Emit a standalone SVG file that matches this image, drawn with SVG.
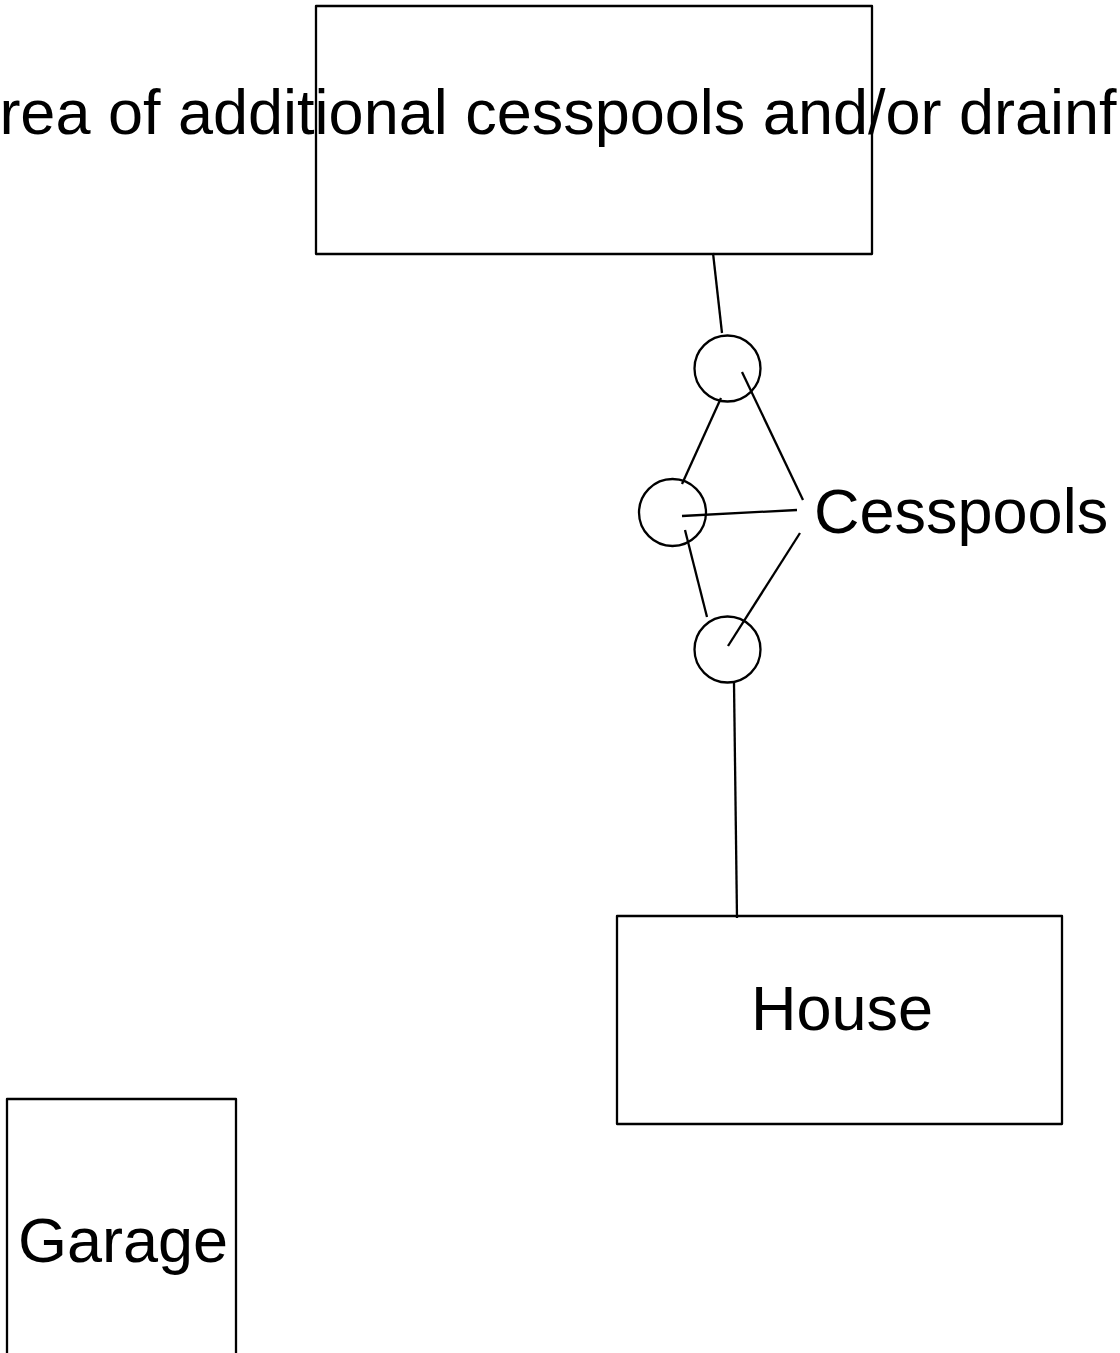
<svg xmlns="http://www.w3.org/2000/svg" width="1120" height="1353" viewBox="0 0 1120 1353">
<style>
.box{fill:none;stroke:#000;stroke-width:2.3;stroke-linejoin:round}
.pool{fill:none;stroke:#000;stroke-width:2.3}
.ln{fill:none;stroke:#000;stroke-width:2.3}
.t{font-family:"Liberation Sans",Arial,sans-serif;font-size:63px;fill:#000}
</style>
<rect width="1120" height="1353" fill="#fff"/>
<g id="area">
<rect class="box" x="316" y="6" width="556" height="248"/>
<text class="t" x="586" y="134" text-anchor="middle">Area of additional cesspools and/or drainfield</text>
</g>
<g id="cesspool1"><circle class="pool" cx="727.5" cy="368.5" r="33"/></g>
<g id="cesspool2"><circle class="pool" cx="672.5" cy="512.5" r="33.5"/></g>
<g id="cesspool3"><circle class="pool" cx="727.5" cy="649.5" r="33"/></g>
<g id="cesspools-label"><text class="t" x="814" y="533">Cesspools</text></g>
<g id="house">
<rect class="box" x="617" y="916" width="445" height="208"/>
<text class="t" x="842" y="1030" text-anchor="middle">House</text>
</g>
<g id="garage">
<rect class="box" x="7" y="1099" width="229" height="300"/>
<text class="t" x="123" y="1262" text-anchor="middle">Garage</text>
</g>
<g id="connectors">
<line class="ln" x1="713" y1="253" x2="722" y2="333"/>
<line class="ln" x1="721" y1="398" x2="682" y2="484"/>
<line class="ln" x1="685" y1="530" x2="707" y2="617"/>
<line class="ln" x1="734" y1="683" x2="737" y2="918"/>
<line class="ln" x1="742" y1="372" x2="803" y2="500"/>
<line class="ln" x1="682" y1="516" x2="797" y2="510"/>
<line class="ln" x1="800" y1="533" x2="728" y2="646"/>
</g>
</svg>
